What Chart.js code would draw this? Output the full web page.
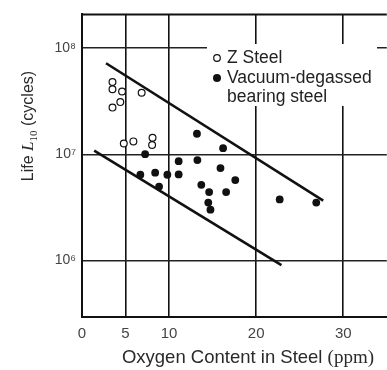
<!DOCTYPE html>
<html>
<head>
<meta charset="utf-8">
<script src="https://cdn.jsdelivr.net/npm/chart.js@4.4.1/dist/chart.umd.min.js"></script>
<style>
  html, body { margin: 0; padding: 0; background: #fff; overflow: hidden; }
  #wrap { position: relative; width: 392px; height: 370px; }
</style>
</head>
<body>
<div id="wrap"><canvas id="lifeChart"></canvas></div>
<script>
// oxygen content (ppm) vs. rolling life L10 (cycles)
const zSteelOxygen = [3.5, 3.5, 4.6, 6.85, 4.4, 3.5, 4.8, 5.9, 8.1, 8.05];
const zSteelLife   = [4.8e7, 4.1e7, 3.9e7, 3.8e7, 3.1e7, 2.75e7, 1.26e7, 1.32e7, 1.43e7, 1.22e7];

const vdOxygen = [7.25, 6.7, 8.4, 9.8, 8.85, 11.1, 11.1, 13.2, 13.25, 16.2,
                  15.9, 13.7, 14.6, 17.6, 16.55, 14.5, 14.75, 22.7, 26.9];
const vdLife   = [1.0e7, 6.4e6, 6.7e6, 6.4e6, 4.95e6, 6.45e6, 8.6e6, 1.56e7, 8.8e6, 1.14e7,
                  7.4e6, 5.15e6, 4.4e6, 5.7e6, 4.4e6, 3.5e6, 3.0e6, 3.75e6, 3.5e6];

// band limits
const upperOxygen = [2.76, 27.7];
const upperLife   = [7.2e7, 3.65e6];
const lowerOxygen = [1.4, 22.9];
const lowerLife   = [1.08e7, 9.0e5];

const xTicks = [0, 5, 10, 20, 30];
const yTicks = [1e6, 1e7, 1e8];
const yTickLabels = ['10\u2076', '10\u2077', '10\u2078'];

const SANS = '"Liberation Sans", Arial, sans-serif';
const SERIF = '"Liberation Serif", "Times New Roman", serif';

const pts = (xs, ys) => xs.map((x, i) => ({ x: x, y: ys[i] }));

// legend box with white ground, drawn over the grid
const legendBox = {
  id: 'legendBox',
  afterDraw(chart) {
    const ctx = chart.ctx;
    ctx.save();
    ctx.fillStyle = '#fff';
    ctx.fillRect(207, 44, 170, 62);
    ctx.strokeStyle = '#111';
    ctx.lineWidth = 1.2;
    ctx.beginPath();
    ctx.arc(217, 58, 3.3, 0, Math.PI * 2);
    ctx.fillStyle = '#fff';
    ctx.fill();
    ctx.stroke();
    ctx.beginPath();
    ctx.arc(217, 78, 4, 0, Math.PI * 2);
    ctx.fillStyle = '#111';
    ctx.fill();
    ctx.font = '17.5px ' + SANS;
    ctx.fillStyle = '#222';
    ctx.textBaseline = 'middle';
    ctx.fillText('Z Steel', 227, 58);
    ctx.fillText('Vacuum-degassed', 227, 78);
    ctx.fillText('bearing steel', 227, 97);
    ctx.restore();
  }
};

// axis titles with mixed fonts, top frame line
const axisTitles = {
  id: 'axisTitles',
  afterDraw(chart) {
    const ctx = chart.ctx;
    const area = chart.chartArea;
    ctx.save();
    ctx.strokeStyle = '#111';
    ctx.lineWidth = 2;
    ctx.beginPath();
    ctx.moveTo(area.left - 1, area.top);
    ctx.lineTo(area.right, area.top);
    ctx.stroke();

    ctx.fillStyle = '#2a2a2a';
    ctx.textBaseline = 'alphabetic';

    // x title
    const a = 'Oxygen Content in Steel ';
    const b = '(ppm)';
    ctx.font = '18.5px ' + SANS;
    const wa = ctx.measureText(a).width;
    ctx.font = '19px ' + SERIF;
    const wb = ctx.measureText(b).width;
    let x0 = 248 - (wa + wb) / 2;
    ctx.font = '18.5px ' + SANS;
    ctx.fillText(a, x0, 363);
    ctx.font = '19px ' + SERIF;
    ctx.fillText(b, x0 + wa, 363);

    // y title, rotated
    ctx.translate(33, 126);
    ctx.rotate(-Math.PI / 2);
    const parts = [
      { t: 'Life ', f: '16px ' + SANS, dy: 0 },
      { t: 'L', f: 'italic 17px ' + SERIF, dy: 0 },
      { t: '10', f: '11px ' + SERIF, dy: 4 },
      { t: ' (cycles)', f: '16px ' + SANS, dy: 0 }
    ];
    let total = 0;
    parts.forEach(p => { ctx.font = p.f; p.w = ctx.measureText(p.t).width; total += p.w; });
    let cx = -total / 2;
    parts.forEach(p => {
      ctx.font = p.f;
      ctx.fillText(p.t, cx, p.dy);
      cx += p.w;
    });
    ctx.restore();
  }
};

new Chart(document.getElementById('lifeChart'), {
  type: 'scatter',
  data: {
    datasets: [{
      label: 'Z Steel',
      data: pts(zSteelOxygen, zSteelLife),
      pointStyle: 'circle',
      pointRadius: 3.4,
      pointBorderWidth: 1.2,
      pointBackgroundColor: '#fff',
      pointBorderColor: '#111'
    }, {
      label: 'Vacuum-degassed bearing steel',
      data: pts(vdOxygen, vdLife),
      pointStyle: 'circle',
      pointRadius: 3.9,
      pointBorderWidth: 0,
      pointBackgroundColor: '#111',
      pointBorderColor: '#111'
    }, {
      label: 'upper',
      data: pts(upperOxygen, upperLife),
      showLine: true,
      borderColor: '#111',
      borderWidth: 2.6,
      pointRadius: 0
    }, {
      label: 'lower',
      data: pts(lowerOxygen, lowerLife),
      showLine: true,
      borderColor: '#111',
      borderWidth: 2.6,
      pointRadius: 0
    }]
  },
  options: {
    responsive: true,
    maintainAspectRatio: false,
    animation: false,
    layout: { padding: { top: 6, right: 0, left: 0, bottom: 0 } },
    plugins: {
      legend: { display: false },
      tooltip: { enabled: false }
    },
    scales: {
      x: {
        type: 'linear',
        min: 0,
        max: 35,
        afterBuildTicks: s => { s.ticks = xTicks.map(v => ({ value: v })); },
        afterFit: s => { s.height = 53; },
        grid: { color: '#111', lineWidth: 1.6, drawTicks: false },
        border: { color: '#111', width: 2 },
        ticks: {
          font: { family: SANS, size: 15 },
          color: '#444',
          padding: 8,
          maxRotation: 0,
          callback: v => String(v)
        }
      },
      y: {
        type: 'logarithmic',
        min: 2.92e5,
        max: 2.08e8,
        afterBuildTicks: s => { s.ticks = yTicks.map(v => ({ value: v })); },
        afterFit: s => { s.width = 82; },
        grid: { color: '#222', lineWidth: 1.4, drawTicks: false },
        border: { color: '#111', width: 2 },
        ticks: {
          font: { family: SANS, size: 14 },
          color: '#444',
          padding: 6,
          callback: v => yTickLabels[yTicks.indexOf(v)]
        }
      }
    }
  },
  plugins: [legendBox, axisTitles]
});
</script>
</body>
</html>
